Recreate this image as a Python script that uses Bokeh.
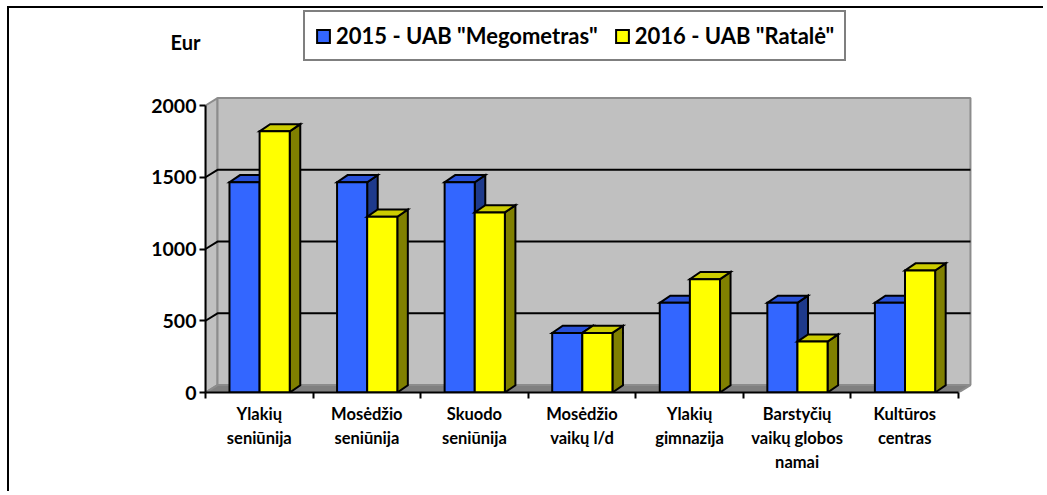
import numpy as np
from bokeh.plotting import figure
from bokeh.models import Range1d, FixedTicker, Legend, LegendItem, LinearAxis
from bokeh.embed import file_html
from bokeh.resources import INLINE

# ---------------- data ----------------
categories = ["Ylakių\nseniūnija", "Mosėdžio\nseniūnija", "Skuodo\nseniūnija",
              "Mosėdžio\nvaikų l/d", "Ylakių\ngimnazija",
              "Barstyčių\nvaikų globos\nnamai", "Kultūros\ncentras"]
series_names = ['2015 - UAB "Megometras"', '2016 - UAB "Ratalė"']
values_2015 = [1465, 1465, 1465, 415, 625, 625, 625]
values_2016 = [1820, 1225, 1255, 415, 790, 355, 850]
y_ticks = [0, 500, 1000, 1500, 2000]
unit_label = "Eur"

# ---------------- style / geometry ----------------
FONT = "Lato"
W, H = 1036, 485
FRAME_BOTTOM = 384           # px from canvas top to the floor front edge
PXY = 0.1435                 # px per value unit
n = len(categories)
ymax = y_ticks[-1]
DX, DY = 0.1115, 52          # depth of walls (data units)
BDX, BDY = 0.098, 50         # depth of bars
BAR_OFF, BAR_W = 0.223, 0.28

p = figure(width=W, height=H, output_backend="svg", toolbar_location=None,
           x_range=Range1d(0, 7.809), y_range=Range1d(0, FRAME_BOTTOM / PXY),
           min_border_left=196, min_border_right=0, min_border_top=0,
           min_border_bottom=H - FRAME_BOTTOM)
p.styles = {"margin-left": "7px", "margin-top": "6px",
            "border-left": "2px solid black", "border-top": "2px solid black"}
p.outline_line_color = None
p.xgrid.visible = False
p.ygrid.visible = False
p.background_fill_color = "white"
p.border_fill_color = "white"

GREY_WALL = "#C0C0C0"
GREY_EDGE = "#8C8C8C"
GREY_FLOOR = "#808080"

# side wall (left)
p.patch([0, DX, DX, 0], [0, DY, ymax + DY, ymax], fill_color=GREY_WALL,
        line_color=GREY_EDGE, line_width=2)
# back wall
p.patch([DX, n + DX, n + DX, DX], [DY, DY, ymax + DY, ymax + DY],
        fill_color=GREY_WALL, line_color=GREY_EDGE, line_width=2)
# floor
p.patch([0, n, n + DX, DX], [0, 0, DY, DY], fill_color=GREY_FLOOR,
        line_color=GREY_EDGE, line_width=2)

# gridlines on side + back wall
gx, gy = [], []
for v in y_ticks[1:-1]:
    gx.append([0, DX, n + DX])
    gy.append([v, v + DY, v + DY])
p.multi_line(gx, gy, line_color="black", line_width=2)


def draw_series(vals, offset, front, top, side):
    lefts = np.arange(n) + offset
    rights = lefts + BAR_W
    sx, sy, tx, ty = [], [], [], []
    for l, r, v in zip(lefts, rights, vals):
        sx.append([r, r + BDX, r + BDX, r])
        sy.append([0, BDY, v + BDY, v])
        tx.append([l, r, r + BDX, l + BDX])
        ty.append([v, v, v + BDY, v + BDY])
    p.patches(sx, sy, fill_color=side, line_color="black", line_width=2,
              line_join="miter")
    p.patches(tx, ty, fill_color=top, line_color="black", line_width=2,
              line_join="miter")
    return p.quad(left=lefts, right=rights, bottom=0, top=vals,
                  fill_color=front, line_color="black", line_width=2,
                  line_join="miter")


r1 = draw_series(values_2015, BAR_OFF, "#3366FF", "#2850D8", "#1E3A8C")
r2 = draw_series(values_2016, BAR_OFF + BAR_W, "#FFFF00", "#CCCC00", "#808000")

# axes
yax = p.yaxis[0]
yax.ticker = FixedTicker(ticks=y_ticks)
yax.bounds = (0, ymax)
yax.axis_line_width = 2
yax.major_tick_line_width = 2
yax.major_tick_out = 6
yax.major_tick_in = 0
yax.minor_tick_out = 0
yax.minor_tick_in = 0
yax.major_label_text_font = FONT
yax.major_label_text_font_style = "bold"
yax.major_label_text_font_size = "19.5px"
yax.major_label_text_color = "black"
yax.major_label_standoff = 3

# unit label "Eur" placed through an auxiliary left axis
eur_pos = (FRAME_BOTTOM - 33) / PXY
eur_axis = LinearAxis(ticker=FixedTicker(ticks=[eur_pos]),
                      major_label_overrides={eur_pos: unit_label},
                      axis_line_color=None, major_tick_out=0, major_tick_in=0,
                      minor_tick_out=0, minor_tick_in=0,
                      major_label_standoff=-52,
                      major_label_text_font=FONT,
                      major_label_text_font_style="bold",
                      major_label_text_font_size="20px",
                      major_label_text_color="black")
p.add_layout(eur_axis, "left")

xax = p.xaxis[0]
centers = [i + 0.5 for i in range(n)]
xax.ticker = FixedTicker(ticks=centers, minor_ticks=list(range(n + 1)))
xax.bounds = (0, n)
xax.major_label_overrides = {c: lab for c, lab in zip(centers, categories)}
xax.axis_line_width = 2
xax.major_tick_out = 0
xax.major_tick_in = 0
xax.minor_tick_out = 6
xax.minor_tick_in = 0
xax.minor_tick_line_width = 2
xax.major_label_text_font = FONT
xax.major_label_text_font_style = "bold"
xax.major_label_text_font_size = "16.5px"
xax.major_label_text_color = "black"
xax.major_label_text_line_height = 1.22
xax.major_label_standoff = 5

# legend
legend = Legend(items=[LegendItem(label=series_names[0], renderers=[r1]),
                       LegendItem(label=series_names[1], renderers=[r2])],
                orientation="horizontal", location=(98, 331),
                border_line_color="black", border_line_width=2,
                background_fill_color="white", background_fill_alpha=1,
                label_text_font=FONT, label_text_font_style="bold",
                label_text_font_size="22px", label_text_color="black",
                glyph_width=16, glyph_height=16, label_standoff=5,
                label_height=24, spacing=16, padding=10, margin=0)
p.add_layout(legend, "center")

open("out.html", "w").write(file_html(p, INLINE))
